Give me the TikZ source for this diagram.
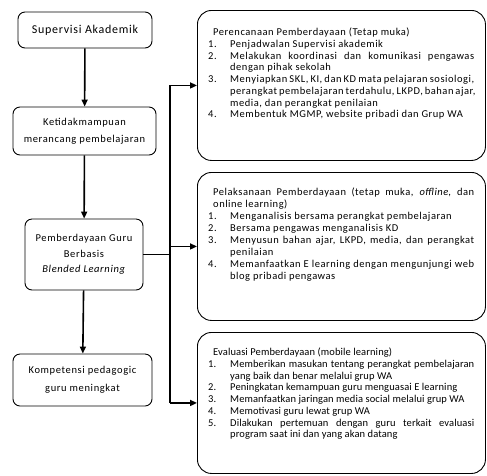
\documentclass[tikz,border=0pt]{standalone}
\usepackage{fontspec}
\setmainfont{Carlito}
\usetikzlibrary{arrows.meta}
\tikzset{
  leftbox/.style={draw, line width=0.9pt, rounded corners=7pt, align=center, inner sep=0pt},
  rightbox/.style={draw, line width=0.9pt, rounded corners=14pt, anchor=north west, inner sep=0pt},
  conn/.style={line width=1.6pt},
  arr/.style={line width=1.6pt, -{Triangle[length=7pt,width=6pt]}},
  txt/.style={anchor=north west, inner sep=0pt, align=left}
}
\newcommand{\rfont}[1]{\fontsize{10.5}{11.7}\selectfont\addfontfeatures{LetterSpace=#1}\hyphenpenalty=10000\exhyphenpenalty=10000\emergencystretch=20pt}
\newcommand{\lfont}[2]{\fontsize{#1}{#2}\selectfont\addfontfeatures{LetterSpace=6}}
\newcommand{\itm}[2]{\par\hangindent=22pt\hangafter=1\noindent\makebox[22pt][l]{#1}#2}
\newcommand{\ttl}[1]{\par\leftskip=5pt\noindent #1\par\leftskip=0pt}
\begin{document}
\begin{tikzpicture}[x=1pt,y=1pt]
\useasboundingbox (0,0) rectangle (487,-475);
% left column
\node[leftbox, minimum width=134pt, minimum height=36pt, font=\lfont{12}{14}] (sa) at (85,-30) {Supervisi Akademik};
\node[leftbox, minimum width=143pt, minimum height=48pt, font=\lfont{10.5}{17}] (km) at (84.5,-131) {Ketidakmampuan\\merancang pembelajaran};
\node[leftbox, minimum width=118pt, minimum height=71pt, font=\lfont{10.5}{15.5}] (pb) at (84,-254.5) {Pemberdayaan Guru\\Berbasis\\\textit{Blended Learning}};
\node[leftbox, minimum width=139pt, minimum height=52pt, font=\lfont{10.5}{18}] (kp) at (82.5,-380) {Kompetensi pedagogic\\guru meningkat};
% right boxes
\node[rightbox, minimum width=288pt, minimum height=150pt] (b1) at (197,-10) {};
\node[rightbox, minimum width=288pt, minimum height=148pt] (b2) at (197,-172) {};
\node[rightbox, minimum width=288pt, minimum height=141pt] (b3) at (197,-332) {};
% texts
\node[txt] (t1) at (208,-28) {\parbox[t]{266pt}{\rfont{5}
\ttl{Perencanaan Pemberdayaan (Tetap muka)}
\itm{1.}{Penjadwalan Supervisi akademik}
\itm{2.}{Melakukan koordinasi dan komunikasi pengawas dengan pihak sekolah}
\itm{3.}{Menyiapkan SKL, KI, dan KD mata pelajaran sosiologi, perangkat pembelajaran terdahulu, LKPD, bahan ajar, media, dan perangkat penilaian}
\itm{4.}{Membentuk MGMP, website pribadi dan Grup WA}\par}};
\node[txt] (t2) at (208,-188) {\parbox[t]{266pt}{\rfont{5}\baselineskip=12pt
\par\leftskip=5pt\noindent Pelaksanaan Pemberdayaan (tetap muka, \textit{offline}, dan online learning)\par\leftskip=0pt
\itm{1.}{Menganalisis bersama perangkat pembelajaran}
\itm{2.}{Bersama pengawas menganalisis KD}
\itm{3.}{Menyusun bahan ajar, LKPD, media, dan perangkat penilaian}
\itm{4.}{Memanfaatkan E learning dengan mengunjungi web blog pribadi pengawas}\par}};
\node[txt] (t3) at (208,-348) {\parbox[t]{266pt}{\rfont{1}
\ttl{Evaluasi Pemberdayaan (mobile learning)}
\itm{1.}{Memberikan masukan tentang perangkat pembelajaran yang baik dan benar melalui grup WA}
\itm{2.}{Peningkatan kemampuan guru menguasai E learning}
\itm{3.}{Memanfaatkan jaringan media social melalui grup WA}
\itm{4.}{Memotivasi guru lewat grup WA}
\itm{5.}{Dilakukan pertemuan dengan guru terkait evaluasi program saat ini dan yang akan datang}\par}};
% connectors
\coordinate (j) at (170,-255);
\draw[arr] (sa) -- (km);
\draw[arr] (km) -- (pb);
\draw[arr] (pb) -- (kp);
\draw[conn] (pb.east) -- (pb.east -| j);
\draw[conn] (j |- b1.west) -- (j |- b3.west);
\draw[arr] (j |- b1.west) -- (b1.west);
\draw[arr] (j |- b2.west) -- (b2.west);
\draw[arr] (j |- b3.west) -- (b3.west);
\end{tikzpicture}
\end{document}
